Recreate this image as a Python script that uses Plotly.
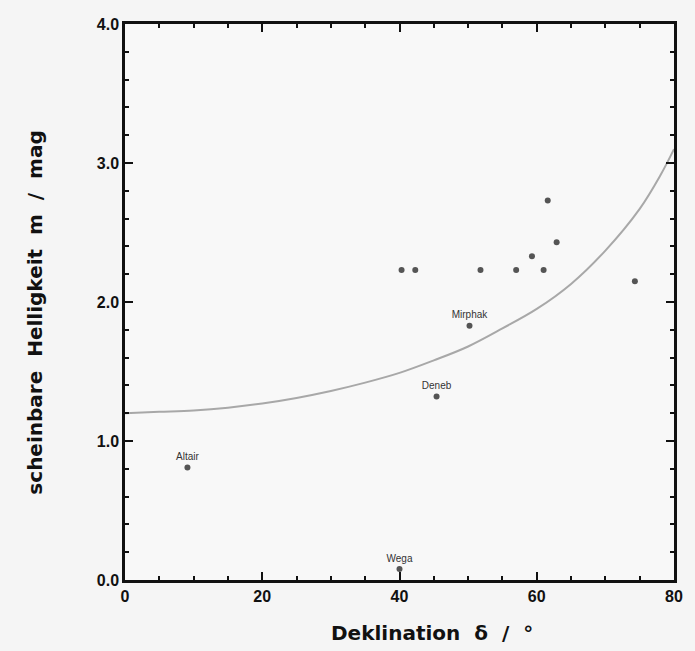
import plotly.graph_objects as go

# Stars (declination in degrees, apparent magnitude)
star_dec = [9.1, 45.4, 50.2, 40.0, 40.3, 42.3, 51.8, 57.0, 61.0, 59.3, 61.6, 62.9, 74.3]
star_mag = [0.81, 1.32, 1.83, 0.08, 2.23, 2.23, 2.23, 2.23, 2.23, 2.33, 2.73, 2.43, 2.15]
star_names = ["Altair", "Deneb", "Mirphak", "Wega", "", "", "", "", "", "", "", "", ""]

# Limiting curve
curve_dec = [0, 5, 10, 15, 20, 25, 30, 35, 40, 45, 50, 55, 60, 65, 70, 75, 78, 80]
curve_mag = [1.20, 1.21, 1.22, 1.24, 1.27, 1.31, 1.36, 1.42, 1.49, 1.58, 1.68, 1.81,
             1.95, 2.13, 2.37, 2.67, 2.91, 3.10]

x_ticks = [0, 20, 40, 60, 80]
y_ticks = [0.0, 1.0, 2.0, 3.0, 4.0]
y_tick_labels = ["0.0", "1.0", "2.0", "3.0", "4.0"]
x_title = "Deklination  δ  /  °"
y_title = "scheinbare  Helligkeit  m  /  mag"

fig = go.Figure()
fig.add_trace(go.Scatter(
    x=curve_dec, y=curve_mag, mode="lines", line=dict(color="#a8a8a8", width=2, shape="spline"),
    hoverinfo="skip", showlegend=False))
fig.add_trace(go.Scatter(
    x=star_dec, y=star_mag, mode="markers+text", text=star_names,
    textposition="top center", textfont=dict(size=10, color="#333", family="Liberation Sans"),
    marker=dict(size=6, color="#555555"), showlegend=False))

axis_common = dict(
    showgrid=False, zeroline=False, showline=True, linecolor="#111", linewidth=2.5,
    mirror="ticks", ticks="inside", ticklen=8, tickwidth=2, tickcolor="#111",
    tickfont=dict(size=16, family="Liberation Sans", color="#111", weight="bold"),
)

title_font = dict(size=20, family="DejaVu Sans", color="#111", weight="bold")

fig.update_xaxes(
    range=[0, 80], tickvals=x_ticks, ticktext=[str(v) for v in x_ticks],
    minor=dict(dtick=5, ticks="inside", ticklen=4, tickcolor="#111", tickwidth=1.5),
    **axis_common)
fig.update_yaxes(
    range=[0, 4], tickvals=y_ticks, ticktext=y_tick_labels,
    minor=dict(dtick=0.2, ticks="inside", ticklen=4, tickcolor="#111", tickwidth=1.5),
    **axis_common)

fig.update_layout(
    width=695, height=651, margin=dict(l=125, r=13, t=24, b=71),
    paper_bgcolor="#f5f5f5", plot_bgcolor="#f8f8f8",
    annotations=[
        dict(text=x_title, xref="paper", yref="paper", x=0.56, y=-0.095,
             xanchor="center", yanchor="middle", showarrow=False, font=title_font),
        dict(text=y_title, xref="paper", yref="paper", x=-0.163, y=0.48, textangle=-90,
             xanchor="center", yanchor="middle", showarrow=False, font=title_font),
    ],
)

fig.write_html("out.html")
